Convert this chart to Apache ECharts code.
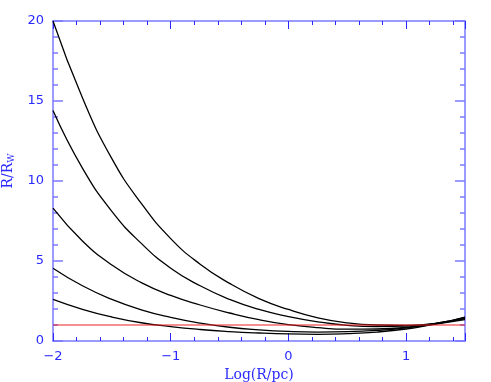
<!DOCTYPE html>
<html>
<head>
<meta charset="utf-8">
<script src="https://cdn.jsdelivr.net/npm/echarts@6/dist/echarts.min.js"></script>
<style>
  html, body { margin: 0; padding: 0; background: #fff; }
  #chart { width: 491px; height: 382px; }
</style>
</head>
<body>
<div id="chart"></div>
<script>
// log(R/pc) sample points
const logR = [-2, -1.75, -1.5, -1.25, -1, -0.75, -0.5, -0.25, 0, 0.25, 0.5, 0.75, 1, 1.25, 1.5]

// R/R_W curves (top to bottom at the left edge)
const curve1 = [20, 15.2, 11.4, 8.6, 6.4, 4.8, 3.6, 2.65, 1.97, 1.45, 1.13, 1.0, 0.98, 1.1, 1.5]
const curve2 = [14.4, 10.8, 8.1, 6.1, 4.55, 3.45, 2.6, 1.97, 1.53, 1.2, 0.98, 0.9, 0.93, 1.1, 1.48]
const curve3 = [8.3, 6.25, 4.75, 3.65, 2.85, 2.25, 1.75, 1.33, 1.02, 0.83, 0.74, 0.75, 0.85, 1.08, 1.42]
const curve4 = [4.55, 3.45, 2.6, 1.95, 1.48, 1.12, 0.86, 0.7, 0.6, 0.56, 0.58, 0.66, 0.82, 1.07, 1.4]
const curve5 = [2.6, 1.98, 1.5, 1.14, 0.9, 0.72, 0.59, 0.5, 0.44, 0.42, 0.46, 0.56, 0.75, 1.05, 1.33]

// reference line R = R_W
const refX = [-2, 1.5]
const refY = [1, 1]

const blue = '#2a2aff'
const axisBlue = '#7a7aff'

const chart = echarts.init(document.getElementById('chart'))

const zip = (xs, ys) => xs.map((x, i) => [x, ys[i]])

const curveSeries = [curve1, curve2, curve3, curve4, curve5].map(c => ({
  type: 'line',
  data: zip(logR, c),
  smooth: true,
  showSymbol: false,
  lineStyle: { color: '#000', width: 1.3 }
}))

const minus = v => String(v).replace('-', '\u2212')

const baseX = {
  type: 'value',
  min: -2,
  max: 1.5,
  interval: 1,
  axisLine: { onZero: false, lineStyle: { color: axisBlue, width: 1.5 } },
  axisTick: { inside: true, length: 8, lineStyle: { color: blue } },
  minorTick: { show: true, splitNumber: 5, length: 4, lineStyle: { color: blue } },
  splitLine: { show: false }
}
const baseY = {
  type: 'value',
  min: 0,
  max: 20,
  interval: 5,
  axisLine: { onZero: false, lineStyle: { color: axisBlue, width: 1.5 } },
  axisTick: { inside: true, length: 10, lineStyle: { color: axisBlue, width: 1.5 } },
  minorTick: { show: true, splitNumber: 5, length: 5, lineStyle: { color: axisBlue, width: 1.5 } },
  splitLine: { show: false }
}

chart.setOption({
  animation: false,
  grid: { left: 53, right: 26, top: 21, bottom: 41, outerBoundsMode: 'none' },
  xAxis: [
    {
      ...baseX,
      position: 'bottom',
      axisLabel: {
        color: blue, fontFamily: 'DejaVu Sans', fontSize: 13, margin: 9,
        showMaxLabel: false,
        formatter: v => minus(v)
      },
      name: 'Log(R/pc)',
      nameLocation: 'middle',
      nameGap: 21,
      nameTextStyle: { color: blue, fontFamily: 'DejaVu Serif', fontSize: 14 }
    },
    { ...baseX, position: 'top', axisLabel: { show: false } }
  ],
  yAxis: [
    {
      ...baseY,
      position: 'left',
      axisLabel: { color: blue, fontFamily: 'DejaVu Sans', fontSize: 13, margin: 9 },
      name: '{n|R/R}{s|W}',
      nameLocation: 'middle',
      nameGap: 35,
      nameTextStyle: {
        padding: [0, 0, 0, 20],
        rich: {
          n: { color: blue, fontFamily: 'DejaVu Serif', fontSize: 14 },
          s: { color: blue, fontFamily: 'DejaVu Serif', fontSize: 9, verticalAlign: 'bottom', padding: [8, 0, 0, 0] }
        }
      }
    },
    { ...baseY, position: 'right', axisLabel: { show: false } }
  ],
  series: [
    ...curveSeries,
    {
      type: 'line',
      data: zip(refX, refY),
      showSymbol: false,
      lineStyle: { color: '#ee2020', width: 1.2 },
      z: 3
    }
  ]
})
</script>
</body>
</html>
